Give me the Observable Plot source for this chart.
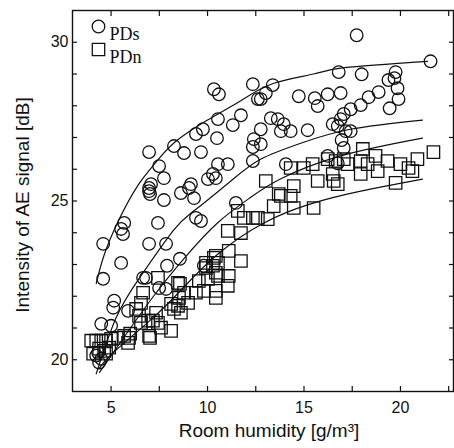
<!DOCTYPE html>
<html><head><meta charset="utf-8">
<script src="https://cdn.jsdelivr.net/npm/d3@7"></script>
<script src="https://cdn.jsdelivr.net/npm/@observablehq/plot@0.6"></script>
<style>body{margin:0;background:#fff}</style>
</head><body><div id="chart"></div>
<script>
// PDs (circles)
const pdsX = [17.73,21.56,16.80,17.99,19.75,19.38,19.69,19.85,19.90,19.44,18.87,18.35,17.94,17.42,17.06,16.90,14.73,15.56,16.23,16.90,15.71,13.38,13.02,12.76,13.28,13.64,13.95,14.31,13.80,15.19,16.49,16.75,17.16,17.42,16.95,12.76,17.06,16.75,14.06,16.23,10.33,10.59,12.35,12.61,11.73,11.31,10.54,9.76,9.40,10.49,12.40,12.35,12.76,6.97,8.26,8.78,9.66,7.49,7.74,7.07,6.97,6.97,7.02,7.74,8.62,9.14,9.04,9.30,10.02,10.28,10.54,11.05,12.35,11.47,5.68,5.52,5.62,7.43,9.40,9.66,4.59,6.97,7.85,5.52,8.57,7.90,4.59,6.66,6.81,7.49,5.16,5.11,5.88,4.49,5.00,7.85,4.49,4.38,4.33,9.81,10.43,4.23];
const pdsY = [30.22,29.40,29.06,28.99,29.06,28.81,28.87,28.55,28.21,27.92,28.43,28.27,28.02,27.89,27.74,27.58,28.30,28.24,28.36,28.40,27.99,28.65,28.40,28.21,27.61,27.58,27.42,27.20,27.20,27.23,27.42,27.36,27.20,27.20,26.92,26.79,26.67,26.19,26.16,26.42,28.52,28.36,28.68,28.21,27.70,27.39,27.58,27.26,27.11,26.98,26.95,26.70,27.26,26.54,26.73,26.51,26.54,26.10,25.72,25.53,25.41,25.31,25.22,25.03,25.25,25.53,25.41,25.09,25.69,25.85,26.16,26.16,26.26,24.94,24.31,24.12,23.96,24.31,24.47,24.37,23.65,23.65,23.65,23.05,23.18,22.96,22.55,22.58,22.58,22.26,21.86,21.64,21.54,21.13,21.07,22.23,20.03,19.91,20.22,22.96,25.72,20.13];
// PDn (squares)
const pdnX = [3.97,4.23,4.49,4.74,5.00,5.36,5.68,5.93,5.88,4.38,4.64,4.90,4.07,4.74,6.55,6.92,7.17,7.43,6.97,8.11,6.45,6.30,6.55,6.66,7.33,7.43,8.11,8.62,8.47,8.99,8.52,8.78,8.47,9.40,9.81,10.43,11.05,9.55,10.02,10.54,11.10,10.28,9.92,9.92,10.54,11.10,10.43,11.73,10.43,7.02,5.99,7.59,8.26,10.43,11.57,11.88,11.05,11.73,12.35,13.02,13.43,13.69,12.61,13.12,10.33,15.45,14.99,15.71,14.47,14.31,13.80,14.47,15.50,16.64,16.49,16.75,17.26,17.94,18.30,18.82,19.33,20.00,20.62,20.88,21.71,19.75,20.42,18.71,18.05,17.94,17.06,14.31,16.54,8.57,16.23];
const pdnY = [20.60,20.60,20.60,20.60,20.66,20.69,20.75,20.69,20.53,20.35,20.28,20.38,20.19,20.19,21.16,21.23,21.23,21.16,20.75,20.91,21.38,21.60,21.79,22.11,21.48,22.58,21.76,21.48,21.70,21.79,21.95,22.11,22.42,22.11,22.17,22.17,22.33,22.48,22.55,22.64,22.64,22.96,22.89,23.05,23.05,23.43,23.27,23.11,22.74,20.69,20.82,21.01,21.60,21.95,24.69,24.47,24.06,23.99,24.47,25.63,24.84,25.22,24.47,24.43,23.21,26.16,26.04,25.63,25.47,25.16,25.16,24.78,24.78,26.26,25.85,25.53,26.16,25.85,26.16,25.94,26.26,26.16,25.94,26.32,26.54,25.57,26.04,26.42,26.64,26.26,26.32,26.04,25.63,22.39,26.32];
// fitted curves
const fit1X = [4.23,4.64,5.4,6.4,7.3,8.3,10.0,11.7,13.4,15.5,17.1,21.4];
const fit1Y = [22.4,23.3,24.4,25.5,26.2,26.85,27.55,28.15,28.7,29.0,29.2,29.4];
const fit2X = [4.23,5.26,6.5,8.21,9.30,11.21,12.77,14.83,17.4,21.14];
const fit2Y = [19.56,21.32,22.6,24.06,24.69,25.63,26.32,26.82,27.26,27.55];
const fit3X = [4.4,5.6,7.2,8.8,10.5,12.2,13.8,16.9,21.14];
const fit3Y = [19.6,20.65,22.0,23.2,24.3,25.1,25.7,26.42,26.98];
const fit4X = [4.38,5.11,7.17,8.73,10.54,12.92,15.35,17.94,21.14];
const fit4Y = [19.72,20.22,21.32,22.26,23.33,24.31,24.91,25.31,25.69];
// ticks
const xLabels = [5,10,15,20];
const xTicks = [5,7.5,10,12.5,15,17.5,20,22.5];
const yLabels = [20,25,30];
const yTicks = [20,21,22,23,24,25,26,27,28,29,30];

const toPts = (xs, ys) => xs.map((x, i) => ({x, y: ys[i]}));
const pds = toPts(pdsX, pdsY);
const pdn = toPts(pdnX, pdnY);
const fits = [toPts(fit1X, fit1Y), toPts(fit2X, fit2Y), toPts(fit3X, fit3Y), toPts(fit4X, fit4Y)];

const ink = "#111";
const chart = Plot.plot({
  width: 454, height: 448,
  marginLeft: 72, marginRight: 1, marginTop: 10, marginBottom: 57,
  style: {fontFamily: "'Liberation Sans', Arial, sans-serif", fontSize: "16px", color: ink, background: "#fff"},
  x: {domain: [3, 22.75]},
  y: {domain: [19, 31]},
  marks: [
    Plot.frame({stroke: ink, strokeWidth: 1.4}),
    Plot.axisX(xTicks, {anchor: "bottom", tickSize: -5, fill: "none", stroke: ink, strokeWidth: 1.2, label: null}),
    Plot.axisX(xTicks, {anchor: "top", tickSize: -5, fill: "none", stroke: ink, strokeWidth: 1.2, label: null}),
    Plot.axisX(xLabels, {anchor: "bottom", tickSize: 0, tickPadding: 10, fontSize: 16, fill: ink, label: null}),
    Plot.axisY(yTicks, {anchor: "left", tickSize: -5, fill: "none", stroke: ink, strokeWidth: 1.2, label: null}),
    Plot.axisY(yTicks, {anchor: "right", tickSize: -5, fill: "none", stroke: ink, strokeWidth: 1.2, label: null}),
    Plot.axisY(yLabels, {anchor: "left", tickSize: 0, tickPadding: 4, fontSize: 16, fill: ink, label: null}),
    ...fits.map(f => Plot.line(f, {x: "x", y: "y", curve: "natural", stroke: ink, strokeWidth: 1.2})),
    Plot.dot(pdn, {x: "x", y: "y", symbol: "square", r: 7, stroke: ink, strokeWidth: 1.3, fill: "none"}),
    Plot.dot(pds, {x: "x", y: "y", symbol: "circle", r: 6.3, stroke: ink, strokeWidth: 1.3, fill: "none"}),
    // legend
    Plot.dot([0], {frameAnchor: "top-left", dx: 26, dy: 16, symbol: "circle", r: 6.3, stroke: ink, strokeWidth: 1.3, fill: "none"}),
    Plot.dot([0], {frameAnchor: "top-left", dx: 26, dy: 39, symbol: "square", r: 7, stroke: ink, strokeWidth: 1.3, fill: "none"}),
    Plot.text(["PDs"], {frameAnchor: "top-left", dx: 37, dy: 17, textAnchor: "start", fontFamily: "'Liberation Serif', 'Times New Roman', serif", fontSize: 18, fill: ink}),
    Plot.text(["PDn"], {frameAnchor: "top-left", dx: 37, dy: 40, textAnchor: "start", fontFamily: "'Liberation Serif', 'Times New Roman', serif", fontSize: 18, fill: ink}),
    // axis titles
    Plot.text(["Intensity of AE signal [dB]"], {frameAnchor: "left", textAnchor: "middle", dx: -50, dy: 4, rotate: -90, fontSize: 19, fill: ink}),
    Plot.text(["Room humidity [g/m³]"], {frameAnchor: "bottom", textAnchor: "middle", dx: 6, dy: 45, fontSize: 19, fill: ink})
  ]
});
document.getElementById("chart").appendChild(chart);
</script>
</body></html>
